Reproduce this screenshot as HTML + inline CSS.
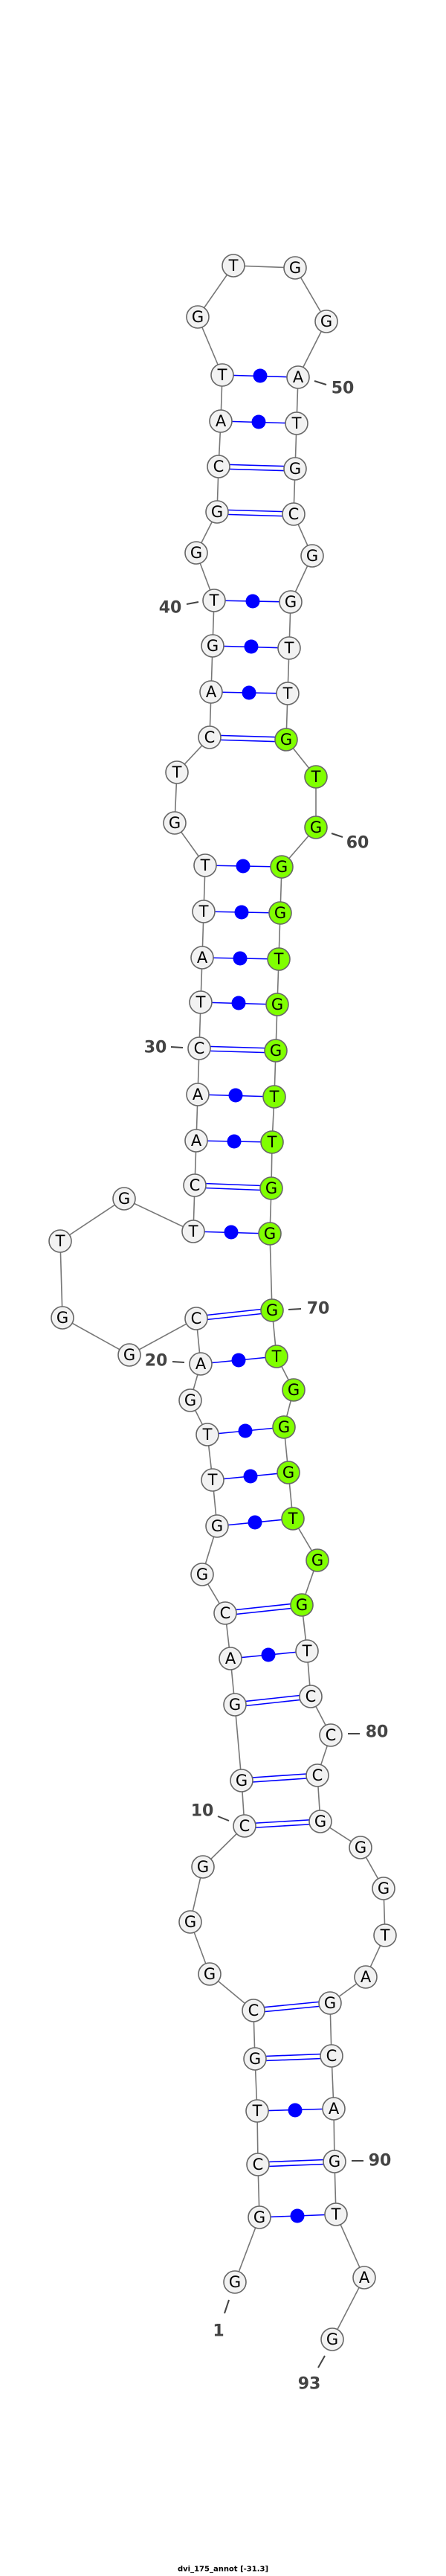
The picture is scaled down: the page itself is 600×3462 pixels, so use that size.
<!DOCTYPE html>
<html><head><meta charset="utf-8"><style>
body{margin:0;background:#fff}
svg{display:block}
.n circle{fill:#f2f2f2;stroke:#666;stroke-width:1.6}
.n.g circle{fill:#80ff00}
.n text{font-family:"DejaVu Sans","Liberation Sans",sans-serif;font-size:21px;text-anchor:middle;dominant-baseline:central;fill:#000}
.lb{font-family:"DejaVu Sans","Liberation Sans",sans-serif;font-size:22px;font-weight:bold;fill:#444;text-anchor:middle;dominant-baseline:central}
.tk{stroke:#444;stroke-width:2}
.bp{stroke:#00f;stroke-width:1.6}
</style></head><body>
<svg width="600" height="3462" viewBox="0 0 600 3462" xmlns="http://www.w3.org/2000/svg">
<polyline fill="none" stroke="#777" stroke-width="1.6" points="316,3067 349,2980 347,2909 346,2837 343,2767 341,2702 282,2653 256,2583 273,2509 329,2454 325,2393 316,2291 310,2229 303,2168 272,2116 292,2051 286,1989 279,1928 256,1882 270,1833 264,1772 174,1821 84,1771 81,1668 167,1611 260,1655 262,1593 264,1533 266,1471 268,1409 270,1347 272,1287 274,1225 276,1163 235,1106 238,1038 282,991 284,930 286,868 288,807 264,743 292,688 294,627 297,566 299,504 266,426 314,357 397,360 439,432 401,507 399,569 397,630 395,691 420,747 391,809 389,871 387,932 385,994 425,1044 425,1112 379,1165 377,1227 375,1289 373,1350 371,1412 369,1474 366,1535 365,1597 363,1658 366,1761 372,1823 395,1868 382,1918 388,1979 394,2041 427,2097 406,2157 413,2219 418,2280 445,2332 427,2386 431,2448 485,2483 516,2538 518,2601 492,2657 444,2692 446,2763 449,2834 450,2905 452,2976 490,3061 447,3144"/>
<g class="bp">
<!-- double pairs -->
<line x1="347" y1="2906" x2="450" y2="2902"/><line x1="347" y1="2912" x2="450" y2="2908"/>
<line x1="343" y1="2764" x2="446" y2="2760"/><line x1="343" y1="2770" x2="446" y2="2766"/>
<line x1="341" y1="2699" x2="444" y2="2689"/><line x1="341" y1="2705" x2="444" y2="2695"/>
<line x1="329" y1="2451" x2="431" y2="2445"/><line x1="329" y1="2457" x2="431" y2="2451"/>
<line x1="325" y1="2390" x2="427" y2="2383"/><line x1="325" y1="2396" x2="427" y2="2389"/>
<line x1="316" y1="2288" x2="418" y2="2277"/><line x1="316" y1="2294" x2="418" y2="2283"/>
<line x1="303" y1="2165" x2="406" y2="2154"/><line x1="303" y1="2171" x2="406" y2="2160"/>
<line x1="264" y1="1769" x2="366" y2="1758"/><line x1="264" y1="1775" x2="366" y2="1764"/>
<line x1="262" y1="1590" x2="365" y2="1594"/><line x1="262" y1="1596" x2="365" y2="1600"/>
<line x1="268" y1="1406" x2="371" y2="1409"/><line x1="268" y1="1412" x2="371" y2="1415"/>
<line x1="282" y1="988" x2="385" y2="991"/><line x1="282" y1="994" x2="385" y2="997"/>
<line x1="294" y1="624" x2="397" y2="627"/><line x1="294" y1="630" x2="397" y2="633"/>
<line x1="292" y1="685" x2="395" y2="688"/><line x1="292" y1="691" x2="395" y2="694"/>
<!-- dot pairs -->
<line x1="349" y1="2980" x2="452" y2="2976"/>
<line x1="346" y1="2837" x2="449" y2="2834"/>
<line x1="310" y1="2229" x2="413" y2="2219"/>
<line x1="292" y1="2051" x2="394" y2="2041"/>
<line x1="286" y1="1989" x2="388" y2="1979"/>
<line x1="279" y1="1928" x2="382" y2="1918"/>
<line x1="270" y1="1833" x2="372" y2="1823"/>
<line x1="260" y1="1655" x2="363" y2="1658"/>
<line x1="264" y1="1533" x2="366" y2="1535"/>
<line x1="266" y1="1471" x2="369" y2="1474"/>
<line x1="270" y1="1347" x2="373" y2="1350"/>
<line x1="272" y1="1287" x2="375" y2="1289"/>
<line x1="274" y1="1225" x2="377" y2="1227"/>
<line x1="276" y1="1163" x2="379" y2="1165"/>
<line x1="284" y1="930" x2="387" y2="932"/>
<line x1="286" y1="868" x2="389" y2="871"/>
<line x1="288" y1="807" x2="391" y2="809"/>
<line x1="297" y1="566" x2="399" y2="569"/>
<line x1="299" y1="504" x2="401" y2="507"/>
</g>
<g fill="#00f">
<circle cx="400" cy="2978" r="9.5"/><circle cx="397" cy="2836" r="9.5"/><circle cx="361" cy="2224" r="9.5"/><circle cx="343" cy="2046" r="9.5"/><circle cx="337" cy="1984" r="9.5"/><circle cx="330" cy="1923" r="9.5"/><circle cx="321" cy="1828" r="9.5"/><circle cx="311" cy="1656" r="9.5"/><circle cx="315" cy="1534" r="9.5"/><circle cx="317" cy="1472" r="9.5"/><circle cx="321" cy="1348" r="9.5"/><circle cx="323" cy="1288" r="9.5"/><circle cx="325" cy="1226" r="9.5"/><circle cx="327" cy="1164" r="9.5"/><circle cx="335" cy="931" r="9.5"/><circle cx="338" cy="869" r="9.5"/><circle cx="340" cy="808" r="9.5"/><circle cx="348" cy="567" r="9.5"/><circle cx="350" cy="505" r="9.5"/>
</g>
<g class="tk">
<line x1="423" y1="512" x2="439" y2="517"/><line x1="251" y1="812" x2="267" y2="809"/><line x1="446" y1="1120" x2="461" y2="1125"/><line x1="230" y1="1407" x2="246" y2="1408"/><line x1="388" y1="1760" x2="405" y2="1759"/><line x1="232" y1="1830" x2="248" y2="1831"/><line x1="468" y1="2330" x2="484" y2="2330"/><line x1="293" y1="2441" x2="308" y2="2447"/><line x1="473" y1="2904" x2="489" y2="2904"/><line x1="308" y1="3091" x2="302" y2="3109"/><line x1="437" y1="3166" x2="428" y2="3182"/>
</g>
<text class="lb" x="461" y="522">50</text><text class="lb" x="229" y="817">40</text><text class="lb" x="481" y="1133">60</text><text class="lb" x="209" y="1408">30</text><text class="lb" x="428" y="1759">70</text><text class="lb" x="210" y="1829">20</text><text class="lb" x="507" y="2328">80</text><text class="lb" x="272" y="2434">10</text><text class="lb" x="511" y="2904">90</text><text class="lb" x="294" y="3133">1</text><text class="lb" x="416" y="3204">93</text>
<g>
<g class="n"><circle cx="316" cy="3067" r="15"/><text x="316" y="3067">G</text></g>
<g class="n"><circle cx="349" cy="2980" r="15"/><text x="349" y="2980">G</text></g>
<g class="n"><circle cx="347" cy="2909" r="15"/><text x="347" y="2909">C</text></g>
<g class="n"><circle cx="346" cy="2837" r="15"/><text x="346" y="2837">T</text></g>
<g class="n"><circle cx="343" cy="2767" r="15"/><text x="343" y="2767">G</text></g>
<g class="n"><circle cx="341" cy="2702" r="15"/><text x="341" y="2702">C</text></g>
<g class="n"><circle cx="282" cy="2653" r="15"/><text x="282" y="2653">G</text></g>
<g class="n"><circle cx="256" cy="2583" r="15"/><text x="256" y="2583">G</text></g>
<g class="n"><circle cx="273" cy="2509" r="15"/><text x="273" y="2509">G</text></g>
<g class="n"><circle cx="329" cy="2454" r="15"/><text x="329" y="2454">C</text></g>
<g class="n"><circle cx="325" cy="2393" r="15"/><text x="325" y="2393">G</text></g>
<g class="n"><circle cx="316" cy="2291" r="15"/><text x="316" y="2291">G</text></g>
<g class="n"><circle cx="310" cy="2229" r="15"/><text x="310" y="2229">A</text></g>
<g class="n"><circle cx="303" cy="2168" r="15"/><text x="303" y="2168">C</text></g>
<g class="n"><circle cx="272" cy="2116" r="15"/><text x="272" y="2116">G</text></g>
<g class="n"><circle cx="292" cy="2051" r="15"/><text x="292" y="2051">G</text></g>
<g class="n"><circle cx="286" cy="1989" r="15"/><text x="286" y="1989">T</text></g>
<g class="n"><circle cx="279" cy="1928" r="15"/><text x="279" y="1928">T</text></g>
<g class="n"><circle cx="256" cy="1882" r="15"/><text x="256" y="1882">G</text></g>
<g class="n"><circle cx="270" cy="1833" r="15"/><text x="270" y="1833">A</text></g>
<g class="n"><circle cx="264" cy="1772" r="15"/><text x="264" y="1772">C</text></g>
<g class="n"><circle cx="174" cy="1821" r="15"/><text x="174" y="1821">G</text></g>
<g class="n"><circle cx="84" cy="1771" r="15"/><text x="84" y="1771">G</text></g>
<g class="n"><circle cx="81" cy="1668" r="15"/><text x="81" y="1668">T</text></g>
<g class="n"><circle cx="167" cy="1611" r="15"/><text x="167" y="1611">G</text></g>
<g class="n"><circle cx="260" cy="1655" r="15"/><text x="260" y="1655">T</text></g>
<g class="n"><circle cx="262" cy="1593" r="15"/><text x="262" y="1593">C</text></g>
<g class="n"><circle cx="264" cy="1533" r="15"/><text x="264" y="1533">A</text></g>
<g class="n"><circle cx="266" cy="1471" r="15"/><text x="266" y="1471">A</text></g>
<g class="n"><circle cx="268" cy="1409" r="15"/><text x="268" y="1409">C</text></g>
<g class="n"><circle cx="270" cy="1347" r="15"/><text x="270" y="1347">T</text></g>
<g class="n"><circle cx="272" cy="1287" r="15"/><text x="272" y="1287">A</text></g>
<g class="n"><circle cx="274" cy="1225" r="15"/><text x="274" y="1225">T</text></g>
<g class="n"><circle cx="276" cy="1163" r="15"/><text x="276" y="1163">T</text></g>
<g class="n"><circle cx="235" cy="1106" r="15"/><text x="235" y="1106">G</text></g>
<g class="n"><circle cx="238" cy="1038" r="15"/><text x="238" y="1038">T</text></g>
<g class="n"><circle cx="282" cy="991" r="15"/><text x="282" y="991">C</text></g>
<g class="n"><circle cx="284" cy="930" r="15"/><text x="284" y="930">A</text></g>
<g class="n"><circle cx="286" cy="868" r="15"/><text x="286" y="868">G</text></g>
<g class="n"><circle cx="288" cy="807" r="15"/><text x="288" y="807">T</text></g>
<g class="n"><circle cx="264" cy="743" r="15"/><text x="264" y="743">G</text></g>
<g class="n"><circle cx="292" cy="688" r="15"/><text x="292" y="688">G</text></g>
<g class="n"><circle cx="294" cy="627" r="15"/><text x="294" y="627">C</text></g>
<g class="n"><circle cx="297" cy="566" r="15"/><text x="297" y="566">A</text></g>
<g class="n"><circle cx="299" cy="504" r="15"/><text x="299" y="504">T</text></g>
<g class="n"><circle cx="266" cy="426" r="15"/><text x="266" y="426">G</text></g>
<g class="n"><circle cx="314" cy="357" r="15"/><text x="314" y="357">T</text></g>
<g class="n"><circle cx="397" cy="360" r="15"/><text x="397" y="360">G</text></g>
<g class="n"><circle cx="439" cy="432" r="15"/><text x="439" y="432">G</text></g>
<g class="n"><circle cx="401" cy="507" r="15"/><text x="401" y="507">A</text></g>
<g class="n"><circle cx="399" cy="569" r="15"/><text x="399" y="569">T</text></g>
<g class="n"><circle cx="397" cy="630" r="15"/><text x="397" y="630">G</text></g>
<g class="n"><circle cx="395" cy="691" r="15"/><text x="395" y="691">C</text></g>
<g class="n"><circle cx="420" cy="747" r="15"/><text x="420" y="747">G</text></g>
<g class="n"><circle cx="391" cy="809" r="15"/><text x="391" y="809">G</text></g>
<g class="n"><circle cx="389" cy="871" r="15"/><text x="389" y="871">T</text></g>
<g class="n"><circle cx="387" cy="932" r="15"/><text x="387" y="932">T</text></g>
<g class="n g"><circle cx="385" cy="994" r="15"/><text x="385" y="994">G</text></g>
<g class="n g"><circle cx="425" cy="1044" r="15"/><text x="425" y="1044">T</text></g>
<g class="n g"><circle cx="425" cy="1112" r="15"/><text x="425" y="1112">G</text></g>
<g class="n g"><circle cx="379" cy="1165" r="15"/><text x="379" y="1165">G</text></g>
<g class="n g"><circle cx="377" cy="1227" r="15"/><text x="377" y="1227">G</text></g>
<g class="n g"><circle cx="375" cy="1289" r="15"/><text x="375" y="1289">T</text></g>
<g class="n g"><circle cx="373" cy="1350" r="15"/><text x="373" y="1350">G</text></g>
<g class="n g"><circle cx="371" cy="1412" r="15"/><text x="371" y="1412">G</text></g>
<g class="n g"><circle cx="369" cy="1474" r="15"/><text x="369" y="1474">T</text></g>
<g class="n g"><circle cx="366" cy="1535" r="15"/><text x="366" y="1535">T</text></g>
<g class="n g"><circle cx="365" cy="1597" r="15"/><text x="365" y="1597">G</text></g>
<g class="n g"><circle cx="363" cy="1658" r="15"/><text x="363" y="1658">G</text></g>
<g class="n g"><circle cx="366" cy="1761" r="15"/><text x="366" y="1761">G</text></g>
<g class="n g"><circle cx="372" cy="1823" r="15"/><text x="372" y="1823">T</text></g>
<g class="n g"><circle cx="395" cy="1868" r="15"/><text x="395" y="1868">G</text></g>
<g class="n g"><circle cx="382" cy="1918" r="15"/><text x="382" y="1918">G</text></g>
<g class="n g"><circle cx="388" cy="1979" r="15"/><text x="388" y="1979">G</text></g>
<g class="n g"><circle cx="394" cy="2041" r="15"/><text x="394" y="2041">T</text></g>
<g class="n g"><circle cx="427" cy="2097" r="15"/><text x="427" y="2097">G</text></g>
<g class="n g"><circle cx="406" cy="2157" r="15"/><text x="406" y="2157">G</text></g>
<g class="n"><circle cx="413" cy="2219" r="15"/><text x="413" y="2219">T</text></g>
<g class="n"><circle cx="418" cy="2280" r="15"/><text x="418" y="2280">C</text></g>
<g class="n"><circle cx="445" cy="2332" r="15"/><text x="445" y="2332">C</text></g>
<g class="n"><circle cx="427" cy="2386" r="15"/><text x="427" y="2386">C</text></g>
<g class="n"><circle cx="431" cy="2448" r="15"/><text x="431" y="2448">G</text></g>
<g class="n"><circle cx="485" cy="2483" r="15"/><text x="485" y="2483">G</text></g>
<g class="n"><circle cx="516" cy="2538" r="15"/><text x="516" y="2538">G</text></g>
<g class="n"><circle cx="518" cy="2601" r="15"/><text x="518" y="2601">T</text></g>
<g class="n"><circle cx="492" cy="2657" r="15"/><text x="492" y="2657">A</text></g>
<g class="n"><circle cx="444" cy="2692" r="15"/><text x="444" y="2692">G</text></g>
<g class="n"><circle cx="446" cy="2763" r="15"/><text x="446" y="2763">C</text></g>
<g class="n"><circle cx="449" cy="2834" r="15"/><text x="449" y="2834">A</text></g>
<g class="n"><circle cx="450" cy="2905" r="15"/><text x="450" y="2905">G</text></g>
<g class="n"><circle cx="452" cy="2976" r="15"/><text x="452" y="2976">T</text></g>
<g class="n"><circle cx="490" cy="3061" r="15"/><text x="490" y="3061">A</text></g>
<g class="n"><circle cx="447" cy="3144" r="15"/><text x="447" y="3144">G</text></g>
</g>
<text x="300" y="3453" font-family="DejaVu Sans, Liberation Sans, sans-serif" font-size="10" font-weight="bold" text-anchor="middle" dominant-baseline="central" fill="#000">dvi_175_annot [-31.3]</text>
</svg>
</body></html>
